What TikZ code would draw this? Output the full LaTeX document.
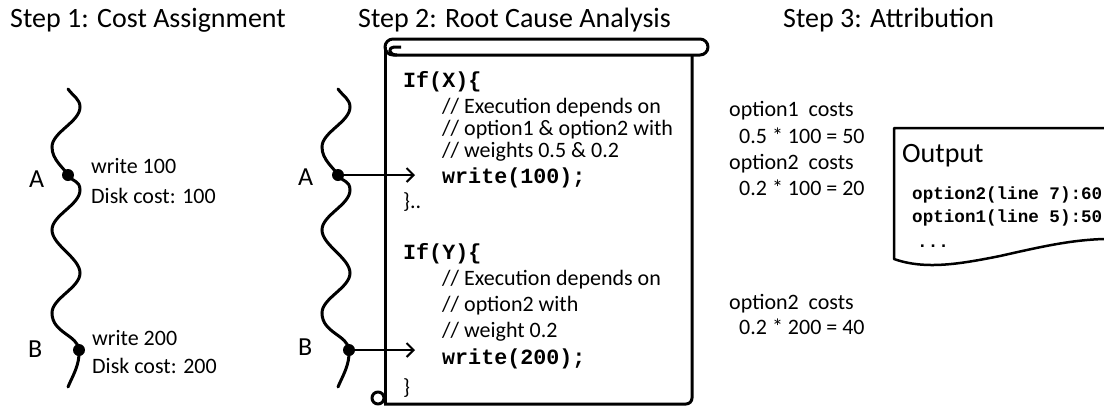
\documentclass[tikz,border=0pt]{standalone}
\usepackage{fontspec}
\setmainfont{Carlito}
\setmonofont{Liberation Mono}
\usetikzlibrary{arrows.meta}
\tikzset{
  heading/.style={anchor=base west, inner sep=0pt, font=\fontsize{28}{30}\selectfont},
  mark letter/.style={anchor=base west, inner sep=0pt, font=\fontsize{26}{28}\selectfont},
  txt/.style={anchor=base west, inner sep=0pt, font=\fontsize{22}{24}\selectfont},
  codetxt/.style={anchor=base west, inner sep=0pt, font=\fontsize{21.7}{24}\selectfont\ttfamily\bfseries},
  outtxt/.style={anchor=base west, inner sep=0pt, font=\fontsize{17.6}{20}\selectfont\ttfamily\bfseries},
  thread/.style={line width=3pt, line cap=round},
  event/.style={circle, fill=black, inner sep=0pt, minimum size=12pt},
  call/.style={line width=2pt, -{Straight Barb[length=7pt,width=14pt]}},
  paper/.style={line width=3pt, line join=round},
  sheet/.style={line width=2.5pt, line join=round},
}
% one execution thread with its two write events
\newcommand\drawthread[1]{%
  \draw[thread] (68,89) .. controls (73,96) and (80,99) .. (80,107)
    .. controls (80,122) and (52,132) .. (52,147)
    .. controls (52,160) and (64,168) .. (68,175)
    .. controls (72,182) and (80,180) .. (80,190)
    .. controls (80,205) and (52,215) .. (52,230)
    .. controls (52,245) and (80,258) .. (80,273)
    .. controls (80,288) and (52,298) .. (52,313)
    .. controls (52,333) and (78,335) .. (79,350)
    .. controls (80,365) and (72,377) .. (68,387);
  \node[event] (A#1) at (68,175) {};
  \node[event] (B#1) at (79,350) {};
}
\begin{document}
\begin{tikzpicture}[x=1pt,y=-1pt]
\useasboundingbox (0,0) rectangle (1104,408);

% headings
\node[heading] (h1) at (10,27) {Step 1: Cost Assignment};
\node[heading] (h2) at (358,27) {Step 2: Root Cause Analysis};
\node[heading] (h3) at (783,27) {Step 3: Attribution};

% step 1: thread with costs
\drawthread{1}
\node[mark letter] (la1) at (29,187) {A};
\node[mark letter] (lb1) at (28,357) {B};
\node[txt] (w1) at (91,173) {write 100};
\node[txt] (d1) at (91,203) {Disk cost: 100};
\node[txt] (w2) at (92,345) {write 200};
\node[txt] (d2) at (92,373) {Disk cost: 200};

% step 2: thread pointing into the source scroll
\begin{scope}[xshift=270pt]
  \drawthread{2}
\end{scope}
\node[mark letter] (la2) at (298,185) {A};
\node[mark letter] (lb2) at (298,355) {B};

% the scroll
\draw[paper, rounded corners=8pt] (385,39) rectangle (708,55);
\draw[paper] (385,47) -- (385,404);
\draw[paper] (397,55) .. controls (388,55) and (388,47) .. (394,47) -- (401,47);
\draw[paper, rounded corners=6pt] (692,55) -- (692,404) -- (384,404);
\draw[paper] (378,398) circle[radius=6];

\coordinate (Aend) at (415,175);
\coordinate (Bend) at (415,350);
\draw[call] (A2.center) -- (Aend);
\draw[call] (B2.center) -- (Bend);

% source code in the scroll
\node[codetxt] (c1) at (403,87) {If(X)\{};
\node[txt] (c2) at (442,113) {// Execution depends on};
\node[txt] (c3) at (442,135) {// option1 \& option2 with};
\node[txt] (c4) at (442,157) {// weights 0.5 \& 0.2};
\node[codetxt] (c5) at (442,183) {write(100);};
\node[txt] (c6) at (403,208) {\}..};
\node[codetxt] (c7) at (403,259) {If(Y)\{};
\node[txt] (c8) at (442,285) {// Execution depends on};
\node[txt] (c9) at (442,311) {// option2 with};
\node[txt] (c10) at (442,337) {// weight 0.2};
\node[codetxt] (c11) at (442,364) {write(200);};
\node[txt] (c12) at (403,394) {\}};

% step 3: attribution of costs
\node[txt] (o1) at (729,116) {option1\ \ costs};
\node[txt] (o2) at (739,143) {0.5 * 100 = 50};
\node[txt] (o3) at (729,169) {option2\ \ costs};
\node[txt] (o4) at (739,195) {0.2 * 100 = 20};
\node[txt] (o5) at (729,309) {option2\ \ costs};
\node[txt] (o6) at (739,334) {0.2 * 200 = 40};

% output document
\draw[sheet] (1104,128) -- (894,128) -- (894,259)
  .. controls (925,270) and (960,264) .. (1000,256)
  .. controls (1040,247) and (1070,240) .. (1104,239);
\node[heading] (out) at (902,162) {Output};
\node[outtxt] (r1) at (912,199) {option2(line 7):60};
\node[outtxt] (r2) at (912,222) {option1(line 5):50};
\node[outtxt] (r3) at (917,247) {...};
\end{tikzpicture}
\end{document}
